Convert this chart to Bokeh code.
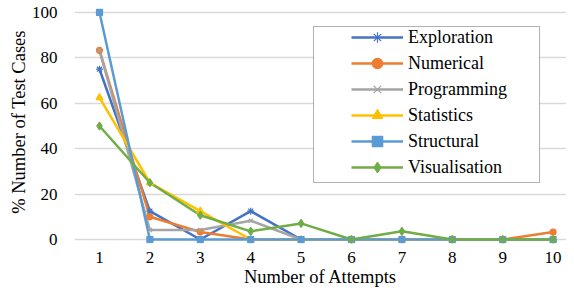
from bokeh.plotting import figure
from bokeh.models import Range1d, FixedTicker, Legend, LegendItem, BoxAnnotation
from bokeh.embed import file_html
from bokeh.resources import INLINE

attempts = [1, 2, 3, 4, 5, 6, 7, 8, 9, 10]
exploration = [75.0, 12.5, 0.0, 12.5, 0.0, 0.0, 0.0, 0.0, 0.0, 0.0]
numerical = [83.3, 10.0, 3.3, 0.0, 0.0, 0.0, 0.0, 0.0, 0.0, 3.3]
programming = [83.3, 4.2, 4.2, 8.3, 0.0, 0.0, 0.0, 0.0, 0.0, 0.0]
statistics = [62.5, 25.0, 12.5, 0.0, 0.0, 0.0, 0.0, 0.0, 0.0, 0.0]
structural = [100.0, 0.0, 0.0, 0.0, 0.0, 0.0, 0.0, 0.0, 0.0, 0.0]
visualisation = [50.0, 25.0, 10.7, 3.6, 7.1, 0.0, 3.6, 0.0, 0.0, 0.0]
y_ticks = [0, 20, 40, 60, 80, 100]

series = [
    ("Exploration", exploration, "#4472C4", "asterisk", 7),
    ("Numerical", numerical, "#ED7D31", "circle", 6),
    ("Programming", programming, "#A5A5A5", "x", 6),
    ("Statistics", statistics, "#FFC000", "triangle", 7),
    ("Structural", structural, "#5B9BD5", "square", 6),
    ("Visualisation", visualisation, "#70AD47", "diamond", 8),
]

FONT = "Liberation Serif"

p = figure(width=566, height=289, output_backend="svg", toolbar_location=None,
           x_range=Range1d(0.504, 10.266), y_range=Range1d(-1.75, 105.26),
           min_border_left=74, min_border_right=0, min_border_top=0,
           min_border_bottom=45)
p.outline_line_color = None
p.background_fill_color = "white"

p.xgrid.grid_line_color = None
p.ygrid.grid_line_color = "#D9D9D9"
p.ygrid.grid_line_width = 1.3
p.yaxis.ticker = FixedTicker(ticks=y_ticks)
p.xaxis.ticker = FixedTicker(ticks=attempts)

for ax in (p.xaxis, p.yaxis):
    ax.axis_line_color = None
    ax.major_tick_line_color = None
    ax.minor_tick_line_color = None
    ax.major_tick_out = 0
    ax.major_tick_in = 0
    ax.major_label_text_font = FONT
    ax.major_label_text_font_size = "17px"
    ax.major_label_text_color = "black"
    ax.axis_label_text_font = FONT
    ax.axis_label_text_font_size = "18.5px"
    ax.axis_label_text_font_style = "normal"
    ax.axis_label_text_color = "black"

p.xaxis.axis_label = "Number of Attempts"
p.yaxis.axis_label = "% Number of Test Cases"
p.xaxis.major_label_standoff = 8
p.xaxis.axis_label_standoff = 1
p.yaxis.major_label_standoff = 17
p.yaxis.axis_label_standoff = 0

box = BoxAnnotation(left=239, right=465, top=217, bottom=61,
                    left_units="screen", right_units="screen",
                    top_units="screen", bottom_units="screen",
                    fill_color="white", fill_alpha=1.0,
                    line_color="black", line_width=1)
p.add_layout(box)

lines = []
for name, vals, color, marker, size in series:
    lines.append(p.line(attempts, vals, line_color=color, line_width=2.5))

items = []
for (name, vals, color, marker, size), r1 in zip(series, lines):
    r2 = p.scatter(attempts, vals, marker=marker, size=size,
                   fill_color=color, line_color=color, line_width=1.2)
    items.append(LegendItem(label=name, renderers=[r1, r2]))

legend = Legend(items=items, location=(277, 63), padding=0, margin=0,
                spacing=0, glyph_width=52, glyph_height=26, label_height=26,
                label_standoff=5, border_line_color=None,
                background_fill_alpha=0,
                label_text_font=FONT, label_text_font_size="18px",
                label_text_color="black")
p.add_layout(legend)

open("out.html", "w").write(file_html(p, INLINE))
